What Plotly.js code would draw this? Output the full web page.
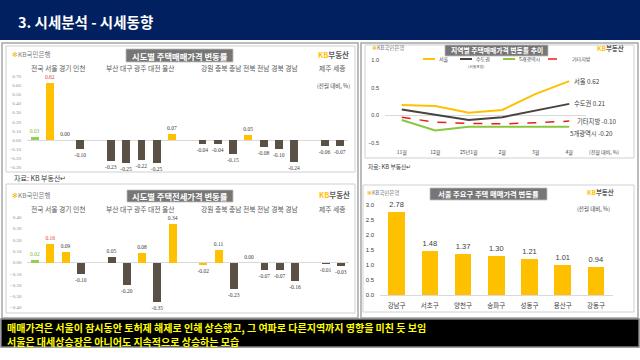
<!DOCTYPE html>
<html><head><meta charset="utf-8">
<script src="https://cdn.plot.ly/plotly-3.0.1.min.js"></script>
<style>html,body{margin:0;padding:0;background:#fff}#chart{width:640px;height:360px}</style>
</head><body><div id="chart"></div>
<script>
// ---------- DATA ----------
const regions = ['전국','서울','경기','인천','부산','대구','광주','대전','울산','강원','충북','충남','전북','전남','경북','경남','제주','세종'];
const regionSlots = ['전국','서울','경기','인천','_a','부산','대구','광주','대전','울산','_b','강원','충북','충남','전북','전남','경북','경남','_c','제주','세종'];
const groupLabels = ['전국 서울 경기 인천','부산 대구 광주 대전 울산','강원 충북 충남 전북 전남 경북 경남','제주 세종'];
const saleChange = [0.03,0.62,0.00,-0.10,-0.23,-0.25,-0.22,-0.25,0.07,-0.04,-0.04,-0.15,0.05,-0.08,-0.10,-0.24,-0.06,-0.07];
const saleColorKey = ['g','y','d','d','d','d','d','d','y','d','d','d','y','d','d','d','d','d'];
const jeonseChange = [0.02,0.16,0.09,-0.10,0.05,-0.20,0.08,-0.35,0.34,-0.02,0.11,-0.23,0.00,-0.07,-0.07,-0.16,-0.01,-0.03];
const jeonseColorKey = ['g','y','y','d','d','d','y','d','y','y','y','d','d','d','d','d','d','d'];

const months = ['11월','12월','25년1월','2월','3월','4월'];
const trendNames = ['서울','수도권','5개광역시','기타지방'];
const trendSeoul = [0.19,0.17,0.05,0.10,0.39,0.62];
const trendCapital = [0.11,0.02,-0.08,-0.03,0.09,0.21];
const trendMetro5 = [-0.08,-0.27,-0.20,-0.20,-0.20,-0.20];
const trendOthers = [-0.03,-0.12,-0.14,-0.15,-0.13,-0.10];

const districts = ['강남구','서초구','양천구','송파구','성동구','용산구','강동구'];
const districtChange = [2.78,1.48,1.37,1.30,1.21,1.01,0.94];

// ---------- STYLE ----------
const W=640,H=360;
const X=p=>p/W, Y=p=>1-p/H;
const KR="'Noto Sans CJK KR','Noto Sans',sans-serif";
const SERIF="'Liberation Serif',serif";
const SANS="'Liberation Sans',Arial,sans-serif";
const COL={g:'#92D050',y:'#FFC000',d:'#5A5046'};
const labelColor=r=> r==='전국'?'#7DBB3C':(r==='서울'?'#E8383D':'#404040');

function regionBar(vals,keys,xa,ya){
  return {type:'bar',x:regions,y:vals,xaxis:xa,yaxis:ya,width:0.52,
    marker:{color:keys.map(k=>COL[k]),line:{width:0}},
    texttemplate:'%{y:.2f}',textposition:'outside',constraintext:'none',cliponaxis:false,
    textfont:{family:SERIF,size:5.5,color:regions.map(labelColor)},
    hoverinfo:'skip',showlegend:false};
}
const trendSeries=[trendSeoul,trendCapital,trendMetro5,trendOthers];
const trendStyles=[
  {color:'#FFC000',width:2,dash:'solid'},
  {color:'#4A433D',width:2,dash:'solid'},
  {color:'#8CC63F',width:2,dash:'solid'},
  {color:'#E02020',width:1.5,dash:'dash'}];

const traces=[
  regionBar(saleChange,saleColorKey,'x','y'),
  regionBar(jeonseChange,jeonseColorKey,'x2','y2')
];
trendSeries.forEach((s,i)=>traces.push({type:'scatter',mode:'lines',x:months,y:s,xaxis:'x3',yaxis:'y3',
  line:trendStyles[i],name:trendNames[i],showlegend:false,hoverinfo:'skip',cliponaxis:false}));
traces.push({type:'bar',x:districts,y:districtChange,xaxis:'x4',yaxis:'y4',width:0.5,
  marker:{color:'#FFC000'},texttemplate:'%{y:.2f}',textposition:'outside',constraintext:'none',cliponaxis:false,
  textfont:{family:SANS,size:7.5,color:'#404040'},hoverinfo:'skip',showlegend:false});

const catAxis=(dom,anchor,arr)=>({domain:dom,anchor:anchor,type:'category',categoryorder:'array',categoryarray:arr,
  range:[-0.5,arr.length-0.5],showticklabels:false,ticks:'',showgrid:false,zeroline:false,showline:false,fixedrange:true});
const numAxisL=(dom,anchor,range)=>({domain:dom,anchor:anchor,range:range,dtick:0.1,tick0:0,tickformat:'.2f',
  tickfont:{family:SERIF,size:5,color:'#8C8C8C'},ticks:'',ticklabelstandoff:5,showgrid:false,
  zeroline:true,zerolinecolor:'#D9D9D9',zerolinewidth:1,showline:false,fixedrange:true});

const shapes=[];
const rect=(x0,y0,x1,y1,fill,line,lw,layer)=>shapes.push({type:'rect',xref:'paper',yref:'paper',
  x0:X(x0),x1:X(x1),y0:Y(y1),y1:Y(y0),fillcolor:fill,line:{color:line,width:lw},layer:layer||'below'});
rect(0,0,640,40,'#002060','#002060',0);
// panels
rect(2,43,358,318,'rgba(0,0,0,0)','#A6A6A6',1.5);
rect(6,46,355,172,'rgba(0,0,0,0)','#D0D0D0',1);
rect(6,184,355,313,'rgba(0,0,0,0)','#D0D0D0',1);
rect(361,43,638,318,'rgba(0,0,0,0)','#A6A6A6',1.5);
rect(365,45,634,158,'rgba(0,0,0,0)','#D0D0D0',1);
rect(363,185,634,312,'rgba(0,0,0,0)','#D0D0D0',1);
// title boxes
rect(126,49,233,62,'#767676','#BFBFBF',0.8,'above');
rect(127,190,233,202,'#767676','#BFBFBF',0.8,'above');
rect(445,45,548,56,'#767676','#BFBFBF',0.8,'above');
rect(430,188,547,200,'#767676','#BFBFBF',0.8,'above');
// bottom band
rect(1,319,639,347,'#000000','#808080',1.5,'above');
// legend samples (chart C)
const legendX=[[423,435],[460,472],[503,515],[548,566]];
const legendTextX=[437,474,517,570];
legendX.forEach((p,i)=>shapes.push({type:'line',xref:'paper',yref:'paper',x0:X(p[0]),x1:X(p[1]),y0:Y(59),y1:Y(59),
  line:{color:trendStyles[i].color,width:trendStyles[i].width,dash:trendStyles[i].dash}}));

const ann=[];
const A=(text,x,y,size,color,opts)=>ann.push(Object.assign({text:text,xref:'paper',yref:'paper',x:X(x),y:Y(y),
  xanchor:'left',yanchor:'middle',showarrow:false,font:{family:KR,size:size,color:color}},opts||{}));
A('<b>3. 시세분석 - 시세동향</b>',16,21,14.5,'#FFFFFF');
// group labels
const groupX=[[28,88],[103,178],[197,302],[317,347]];
[[68],[209]].forEach(yy=>groupLabels.forEach((g,i)=>A(g,(groupX[i][0]+groupX[i][1])/2,yy[0],6.8,'#595959',{xanchor:'center'})));
// titles
A('<b>시도별 주택매매가격 변동률</b>',179.5,55.5,8.3,'#FFFFFF',{xanchor:'center'});
A('<b>시도별 주택전세가격 변동률</b>',180,196,8.3,'#FFFFFF',{xanchor:'center'});
A('<b>지역별 주택매매가격 변동률 추이</b>',496.5,50.5,6.8,'#FFFFFF',{xanchor:'center'});
A('<b>서울 주요구 주택 매매가격 변동률</b>',488.5,194,7.3,'#FFFFFF',{xanchor:'center'});
// logos
const kbBank=s=>'<span style="color:#F5B400">✻</span><span style="color:#7F7F7F">KB국민은행</span>';
A(kbBank(),10,54,6.5,'#7F7F7F'); A(kbBank(),10,195,6.5,'#7F7F7F');
A(kbBank(),370,48,5.5,'#7F7F7F'); A(kbBank(),365,193,5.5,'#7F7F7F');
const kbRE='<b><span style="color:#FFC000">KB</span><span style="color:#595959">부동산</span></b>';
A(kbRE,351,54,7.5,'#595959',{xanchor:'right'}); A(kbRE,352,194,7.5,'#595959',{xanchor:'right'});
A(kbRE,626,48,6.5,'#595959',{xanchor:'right'}); A(kbRE,616,192,6.5,'#595959',{xanchor:'right'});
// units
A('(전월 대비, %)',352,86,5.5,'#404040',{xanchor:'right'});
A('(전월 대비, %)',621,152,5,'#404040',{xanchor:'right'});
A('(전월 대비, %)',612,209,5.5,'#404040',{xanchor:'right'});
// sources
A('자료: KB 부동산↵',12,178,7,'#404040');
A('자료: KB 부동산↵',366,166,5.8,'#404040');
// legend text
trendNames.forEach((n,i)=>A(n,legendTextX[i],59,5,'#404040'));
A('(서울포함)',476,66,3.8,'#595959',{xanchor:'center'});
// end labels for trend lines
const endShift=[0,0,-7,0];
trendSeries.forEach((s,i)=>ann.push({text:trendNames[i]+' '+s[s.length-1].toFixed(2),xref:'x3',yref:'y3',
  x:months[months.length-1],y:s[s.length-1],xanchor:'left',yanchor:'middle',xshift:i===2?-1:(i===3?6:3),yshift:endShift[i],
  showarrow:false,font:{family:KR,size:6.3,color:'#404040'}}));
// bottom band text
A('<b>매매가격은 서울이 잠시동안 토허제 해제로 인해 상승했고, 그 여파로 다른지역까지 영향을 미친 듯 보임</b>',5,327.5,10,'#FFFF00');
A('<b>서울은 대세상승장은 아니어도 지속적으로 상승하는 모습</b>',5,341,10,'#FFFF00');

const layout={width:W,height:H,margin:{l:0,r:0,t:0,b:0},paper_bgcolor:'#FFFFFF',plot_bgcolor:'rgba(0,0,0,0)',
  showlegend:false,bargap:0,hovermode:false,
  xaxis:catAxis([X(27),X(347.5)],'y',regionSlots),
  yaxis:numAxisL([Y(169.3),Y(74.2)],'x',[-0.32,0.72]),
  xaxis2:catAxis([X(27.4),X(348.6)],'y2',regionSlots),
  yaxis2:numAxisL([Y(310),Y(215)],'x2',[-0.42,0.42]),
  xaxis3:{domain:[X(385),X(586)],anchor:'y3',type:'category',range:[-0.5,5.5],ticks:'',showgrid:false,zeroline:false,
    showline:false,tickfont:{family:KR,size:5,color:'#404040'},ticklabelstandoff:2,fixedrange:true},
  yaxis3:{domain:[Y(146.1),Y(57.2)],anchor:'x3',range:[-0.55,1.05],dtick:0.5,tick0:0,tickformat:'.1f',ticks:'',
    showgrid:false,zeroline:true,zerolinecolor:'#D9D9D9',zerolinewidth:1,showline:false,ticklabelstandoff:5,
    tickfont:{family:SANS,size:5.5,color:'#404040'},fixedrange:true},
  xaxis4:{domain:[X(380),X(612.5)],anchor:'y4',type:'category',ticks:'',showgrid:false,zeroline:false,
    showline:true,linecolor:'#D9D9D9',linewidth:1,tickfont:{family:KR,size:6.5,color:'#404040'},ticklabelstandoff:4,fixedrange:true},
  yaxis4:{domain:[Y(295),Y(202)],anchor:'x4',range:[0,3.1],dtick:0.5,tick0:0,tickformat:'.1f',ticks:'',
    showgrid:false,zeroline:false,showline:false,ticklabelstandoff:5,tickfont:{family:SANS,size:6,color:'#404040'},fixedrange:true},
  shapes:shapes,annotations:ann};
Plotly.newPlot('chart',traces,layout,{staticPlot:true,displayModeBar:false});
</script></body></html>
